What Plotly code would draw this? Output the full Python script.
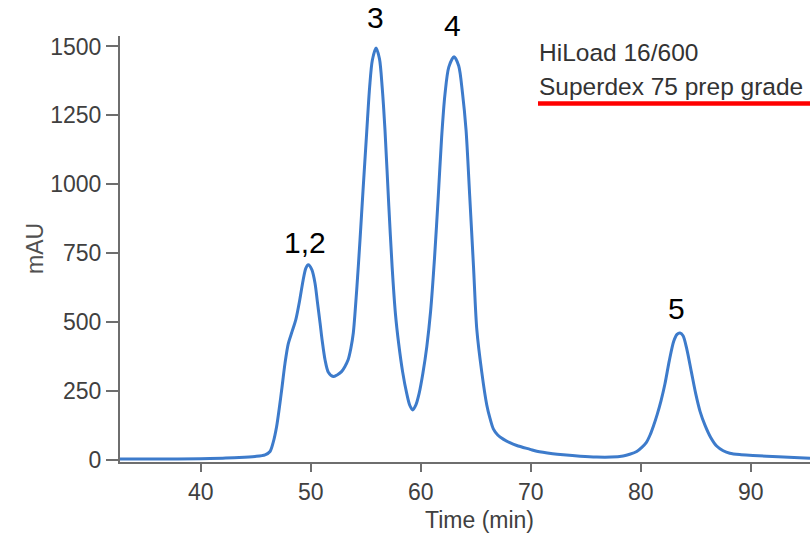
import plotly.graph_objects as go

# Chromatogram trace (time in min, absorbance in mAU)
time_min = [32.66, 36.0, 40.0, 42.0, 43.5, 44.94, 45.85, 46.3, 46.6, 46.9, 47.15, 47.36, 47.66,
            47.95, 48.3, 48.65, 49.0, 49.3, 49.55, 49.78, 50.1, 50.39, 50.6, 50.85,
            51.05, 51.3, 51.6, 52.05, 52.4, 52.8, 53.1, 53.4, 53.65, 53.87, 54.18, 54.48, 54.75,
            55.09, 55.35, 55.6, 55.94, 56.25, 56.5, 56.75, 57.1, 57.4, 57.7, 58.0, 58.35,
            58.73, 59.0, 59.27, 59.55, 59.85, 60.2, 60.55, 60.9, 61.25, 61.6, 61.9, 62.2, 62.55,
            63.03, 63.45, 63.8, 64.12, 64.45, 64.8, 65.1, 65.55, 66.0, 66.3, 66.6, 67.0, 67.5,
            68.1, 68.73, 69.94, 70.55, 72.0, 72.96, 74.5, 76.0, 77.3, 78.4, 79.0, 79.64, 80.1,
            80.5, 80.85, 81.15, 81.5, 81.85, 82.2, 82.6, 83.0, 83.3, 83.57, 83.85, 84.2, 84.6,
            85.0, 85.4, 85.85, 86.35, 86.9, 87.5, 88.1, 89.0, 90.2, 92.5, 95.39]
mau = [3, 3, 4, 6, 8, 12, 18, 30, 65, 121, 190, 254, 350,
       420, 465, 510, 580, 650, 695, 708, 690, 641, 575, 496,
       430, 363, 318, 302, 308, 320, 338, 363, 405, 460, 617, 798, 975,
       1190, 1350, 1450, 1494, 1455, 1350, 1197, 920, 700, 530, 420, 320,
       240, 198, 181, 198, 240, 315, 410, 540, 730, 960, 1170, 1325, 1425,
       1463, 1430, 1330, 1197, 960, 700, 472, 318, 200, 150, 112, 90, 75,
       62, 52, 38, 31, 22, 18, 13, 10, 10, 14, 20, 30, 45,
       62, 90, 122, 165, 215, 275, 360, 430, 455, 460, 450, 400, 320,
       240, 175, 125, 82, 50, 33, 24, 19, 16, 11, 6]

x_ticks = [40, 50, 60, 70, 80, 90]
y_ticks = [0, 250, 500, 750, 1000, 1250, 1500]

peak_labels = ["1,2", "3", "4", "5"]
peak_label_x = [49.45, 55.9, 62.85, 83.25]
peak_label_y = [0.5155, 1.0423, 1.0235, 0.3608]

column_lines = ["HiLoad 16/600", "Superdex 75 prep grade"]

FONT = "Liberation Sans, Arial, Helvetica, sans-serif"

fig = go.Figure()
fig.add_trace(go.Scatter(
    x=time_min, y=mau, mode="lines",
    line=dict(color="#3d7bcb", width=3, shape="spline", smoothing=0.8),
    hoverinfo="skip", showlegend=False,
))

axis_common = dict(
    showgrid=False, zeroline=False, showline=True, linecolor="#6e6e6e", linewidth=2,
    ticks="outside", tickcolor="#6e6e6e", tickwidth=2,
    tickfont=dict(family=FONT, size=23, color="#404040"),
)

fig.update_layout(
    width=810, height=533,
    margin=dict(l=120, r=0, t=36, b=71),
    paper_bgcolor="white", plot_bgcolor="white",
    xaxis=dict(range=[32.66, 95.39], tickvals=x_ticks, ticklen=8, **axis_common),
    yaxis=dict(range=[-8, 1538], tickvals=y_ticks, ticklen=12, **axis_common),
)

annotations = []
for lab, lx, ly in zip(peak_labels, peak_label_x, peak_label_y):
    annotations.append(dict(
        text=lab, x=lx, y=ly, xref="x", yref="paper", showarrow=False,
        xanchor="center", yanchor="middle",
        font=dict(family=FONT, size=30, color="black"),
    ))
annotations.append(dict(text=column_lines[0], x=0.6043, y=0.9624, xref="paper", yref="paper",
                        showarrow=False, xanchor="left", yanchor="middle",
                        font=dict(family=FONT, size=24.5, color="#333333")))
annotations.append(dict(text=column_lines[1], x=0.6043, y=0.8803, xref="paper", yref="paper",
                        showarrow=False, xanchor="left", yanchor="middle",
                        font=dict(family=FONT, size=24.5, color="#333333")))
annotations.append(dict(text="Time (min)", x=0.5203, y=-0.1362, xref="paper", yref="paper",
                        showarrow=False, xanchor="center", yanchor="middle",
                        font=dict(family=FONT, size=23, color="#404040")))
annotations.append(dict(text="mAU", x=-0.1232, y=0.5023, xref="paper", yref="paper",
                        showarrow=False, xanchor="center", yanchor="middle", textangle=-90,
                        font=dict(family=FONT, size=23, color="#505050")))
fig.update_layout(annotations=annotations)

fig.add_shape(type="line", xref="paper", yref="paper", x0=0.6058, x1=1.0, y0=0.8415, y1=0.8415,
              line=dict(color="#ff0000", width=4.5))

fig.write_html("out.html")
